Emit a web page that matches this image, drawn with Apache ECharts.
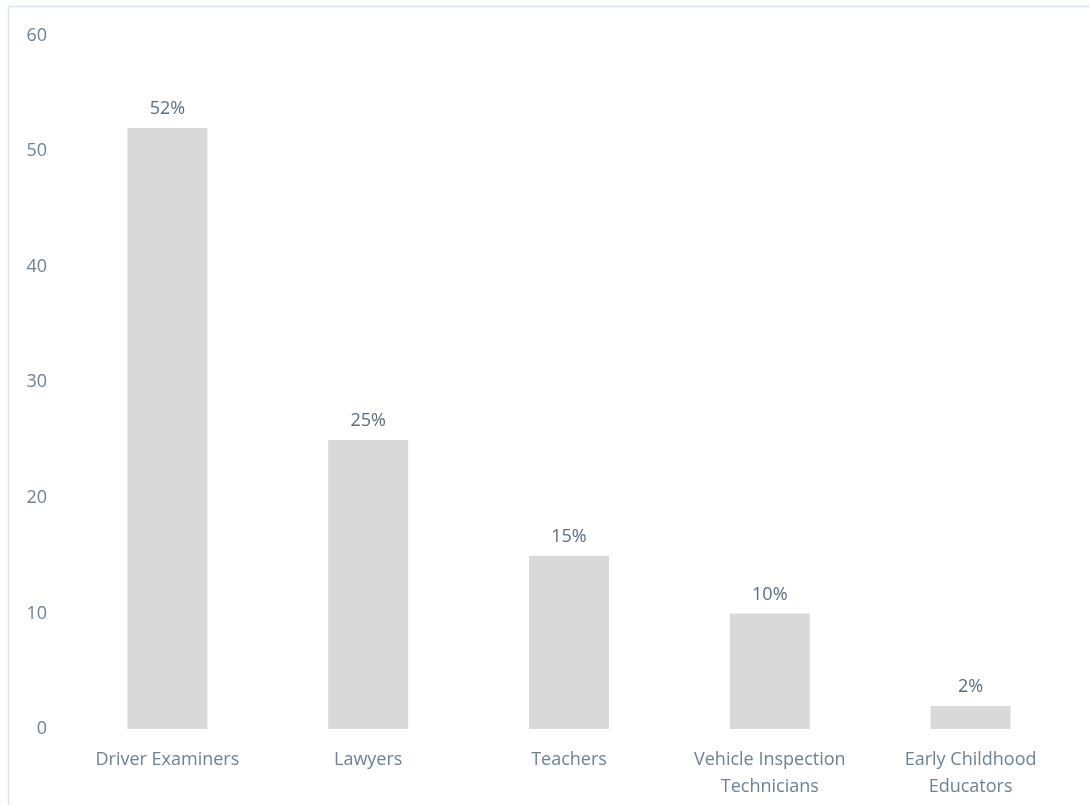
<!DOCTYPE html>
<html><head><meta charset="utf-8">
<script src="https://cdn.jsdelivr.net/npm/echarts@6/dist/echarts.min.js"></script>
<style>html,body{margin:0;padding:0;background:#fff}#c{width:1089px;height:805px}</style>
</head><body><div id="c"></div>
<script>
const categories = ['Driver Examiners', 'Lawyers', 'Teachers', 'Vehicle Inspection\nTechnicians', 'Early Childhood\nEducators'];
const values = [52, 25, 15, 10, 2];
const yTicks = [0, 10, 20, 30, 40, 50, 60];

const chart = echarts.init(document.getElementById('c'));
chart.setOption({
  animation: false,
  graphic: [{
    type: 'rect', shape: {x: 8.5, y: 6.5, width: 1200, height: 1000},
    style: {fill: 'none', stroke: '#dde3ea', lineWidth: 1.5}, silent: true
  }],
  grid: {left: 67, right: 18, top: 35.5, bottom: 76},
  xAxis: {
    type: 'category', data: categories,
    axisLine: {show: false}, axisTick: {show: false},
    axisLabel: {color: '#6e8294', fontFamily: 'Open Sans', fontSize: 18, margin: 17, lineHeight: 27, interval: 0}
  },
  yAxis: {
    type: 'value', min: yTicks[0], max: yTicks[yTicks.length - 1], interval: 10,
    splitLine: {show: false}, axisLine: {show: false}, axisTick: {show: false},
    axisLabel: {color: '#6e8294', fontFamily: 'Open Sans', fontSize: 18, margin: 20}
  },
  series: [{
    type: 'bar', data: values, barWidth: 80,
    itemStyle: {color: '#d9d9d9'},
    label: {show: true, position: 'top', distance: 10, formatter: p => p.value + '%',
      color: '#5b6e80', fontFamily: 'Open Sans', fontSize: 18}
  }]
});
</script></body></html>
